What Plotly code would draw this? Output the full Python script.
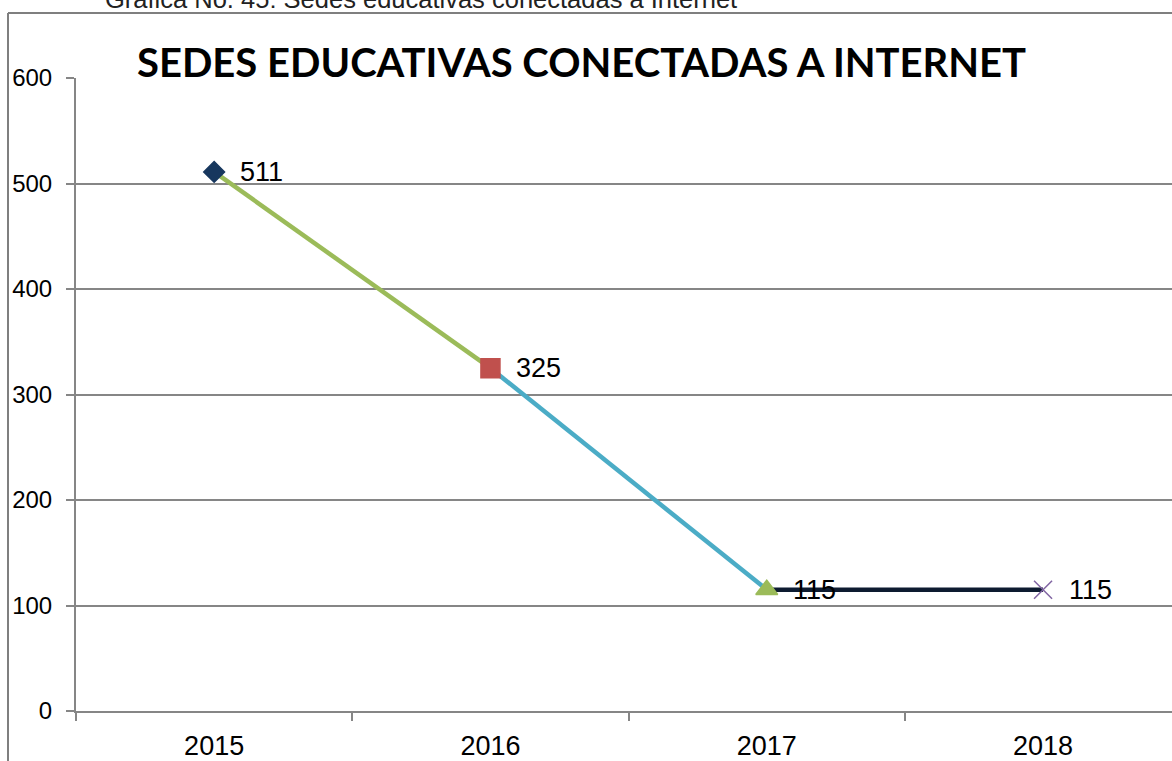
import plotly.graph_objects as go

# Data
years = ["2015", "2016", "2017", "2018"]
sedes = [511, 325, 115, 115]

# Per-point styling
marker_symbols = ["diamond", "square", "triangle-up", "x-thin-open"]
marker_colors = ["#17375E", "#C0504D", "#9BBB59", "#8064A2"]
marker_sizes = [16, 19, 19, 18]
segment_colors = ["#9BBB59", "#4BACC6", "#0D1B30"]

W, H = 1172, 761
ML, MR, MT, MB = 76, 0, 78, 50
plot_w = W - ML - MR
plot_h = H - MT - MB


def px_x(p):
    return (p - ML) / plot_w


def px_y(p):
    return (H - MB - p) / plot_h


fig = go.Figure()

# Coloured segments between consecutive years
for i in range(len(years) - 1):
    fig.add_trace(go.Scatter(
        x=[years[i], years[i + 1]],
        y=[sedes[i], sedes[i + 1]],
        mode="lines",
        line=dict(color=segment_colors[i], width=4.5),
        hoverinfo="skip",
        showlegend=False,
    ))

# Point markers
fig.add_trace(go.Scatter(
    x=years,
    y=sedes,
    mode="markers",
    marker=dict(
        symbol=marker_symbols,
        color=marker_colors,
        size=marker_sizes,
        opacity=1,
        line=dict(color=marker_colors, width=1.5),
    ),
    showlegend=False,
))

# Value labels (category index used for the x position)
for i, v in enumerate(sedes):
    fig.add_annotation(
        x=i, y=v, text=str(v), showarrow=False,
        xanchor="left", yanchor="middle", xshift=24,
        font=dict(family="Liberation Sans, Arial", size=27, color="#000000"),
    )

# Chart title
fig.add_annotation(
    xref="paper", yref="paper",
    x=px_x(581), y=px_y(88),
    xanchor="center", yanchor="bottom",
    text="<b>SEDES EDUCATIVAS CONECTADAS A INTERNET</b>",
    showarrow=False,
    font=dict(family="Lato", size=40, color="#000000"),
)

# Figure caption above the frame
fig.add_annotation(
    xref="paper", yref="paper",
    x=px_x(103), y=px_y(15),
    xanchor="left", yanchor="bottom",
    text="Gráfica No. 45: Sedes educativas conectadas a Internet",
    showarrow=False,
    font=dict(family="Liberation Sans, Arial", size=25.5, color="#222222"),
)

# Outer frame (left and top edges)
frame = dict(color="#7F7F7F", width=2)
fig.add_shape(type="line", xref="paper", yref="paper",
              x0=px_x(8), x1=px_x(8), y0=px_y(13), y1=px_y(H + 5), line=frame)
fig.add_shape(type="line", xref="paper", yref="paper",
              x0=px_x(8), x1=px_x(W + 5), y0=px_y(13), y1=px_y(13), line=frame)

fig.update_layout(
    width=W, height=H,
    margin=dict(l=ML, r=MR, t=MT, b=MB),
    paper_bgcolor="white",
    plot_bgcolor="white",
    font=dict(family="Liberation Sans, Arial", color="#000000"),
    showlegend=False,
)

fig.update_xaxes(
    type="category",
    range=[-0.5, -0.5 + plot_w / 276.3],
    tickson="boundaries",
    ticks="outside", ticklen=8, tickcolor="#868686", tickwidth=1.5,
    showline=True, linecolor="#868686", linewidth=2,
    showgrid=False,
    tickfont=dict(size=27),
    ticklabelstandoff=10,
)

fig.update_yaxes(
    range=[0, 600],
    tickvals=[0, 100, 200, 300, 400, 500, 600],
    ticks="outside", ticklen=8, tickcolor="#868686", tickwidth=1.5,
    showline=True, linecolor="#868686", linewidth=2,
    showgrid=True, gridcolor="#868686", gridwidth=1.5,
    zeroline=False,
    tickfont=dict(size=24),
    ticklabelstandoff=9,
)

fig.write_html("out.html")
